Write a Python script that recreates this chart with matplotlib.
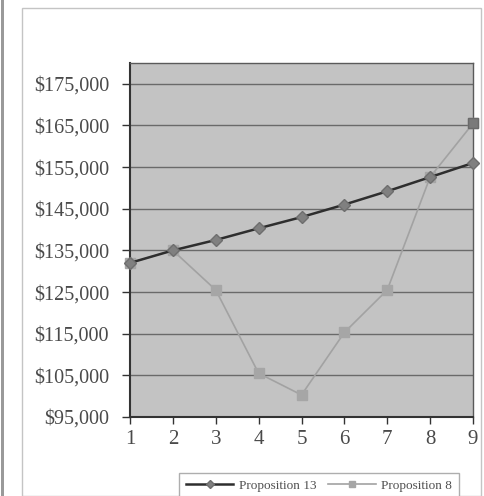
import matplotlib
matplotlib.use("Agg")
import matplotlib.pyplot as plt
from matplotlib.patches import Rectangle
from matplotlib.ticker import FuncFormatter

periods = [1, 2, 3, 4, 5, 6, 7, 8, 9]
prop13 = [132000, 135000, 137500, 140300, 143000, 146000, 149200, 152600, 156000]
prop8 = [132000, 135000, 125500, 105500, 100300, 115300, 125500, 152600, 165500]
series_names = ["Proposition 13", "Proposition 8"]
y_ticks = [95000, 105000, 115000, 125000, 135000, 145000, 155000, 165000, 175000]

plt.rcParams["font.family"] = ["Liberation Serif", "DejaVu Serif"]

W, H = 485, 496
fig = plt.figure(figsize=(W / 100, H / 100), dpi=100)
fig.patch.set_facecolor("white")

# outer chart frame and left edge strip
fig.add_artist(Rectangle((22 / W, 0), (481 - 22) / W, (H - 8) / H,
                         transform=fig.transFigure, fill=False,
                         edgecolor="#c4c4c4", linewidth=1.0))
fig.add_artist(Rectangle((1 / W, 0), 3 / W, 1, transform=fig.transFigure,
                         facecolor="#9a9a9a", edgecolor="none"))

left, right, top, bottom = 130, 473, 63, 417
ax = fig.add_axes([left / W, 1 - bottom / H, (right - left) / W, (bottom - top) / H])
ax.set_facecolor("#c3c3c3")

ax.plot(periods, prop13, color="#2e2e2e", linewidth=1.8, marker="D",
        markersize=6.5, markerfacecolor="#808080", markeredgecolor="#6e6e6e",
        label=series_names[0], zorder=4, clip_on=False)
ax.plot(periods, prop8, color="#a2a2a2", linewidth=1.2, marker="s",
        markersize=6.5, markerfacecolor="#a6a6a6", markeredgecolor="#a6a6a6",
        label=series_names[1], zorder=3, clip_on=False)
# final point of the second series drawn darker on top
ax.plot(periods[-1:], prop8[-1:], linestyle="none", marker="s", markersize=7,
        markerfacecolor="#7a7a7a", markeredgecolor="#6a6a6a", zorder=5,
        clip_on=False)

ax.set_xlim(1, 9)
ax.set_ylim(95000, 180000)
ax.set_yticks(y_ticks)
ax.set_xticks(periods)
ax.yaxis.set_major_formatter(FuncFormatter(lambda v, p: "${:,.0f}".format(v)))
ax.grid(axis="y", color="#6a6a6a", linewidth=1.0)
ax.set_axisbelow(True)

for s in ax.spines.values():
    s.set_color("#5a5a5a")
    s.set_linewidth(1.0)
ax.spines["left"].set_color("#333333")
ax.spines["bottom"].set_color("#333333")
ax.spines["left"].set_linewidth(1.5)
ax.spines["bottom"].set_linewidth(1.5)

ax.tick_params(axis="y", direction="out", length=6, width=1, color="#333333",
               labelsize=14.5, labelcolor="#4a4a4a", pad=9)
ax.tick_params(axis="x", direction="out", length=5, width=1, color="#333333",
               labelsize=15, labelcolor="#4a4a4a", pad=4)

handles, labels = ax.get_legend_handles_labels()
leg = fig.legend(handles, labels, ncol=2, loc="upper left",
                 bbox_to_anchor=(172 / W, 1 - 466 / H), fontsize=9.5,
                 frameon=True, fancybox=False, edgecolor="#9a9a9a",
                 handlelength=3.6, columnspacing=0.9, handletextpad=0.4,
                 borderpad=0.55, markerscale=0.7)
leg.get_frame().set_linewidth(1.0)
for t in leg.get_texts():
    t.set_color("#505050")

fig.savefig("out.png", dpi=100)
